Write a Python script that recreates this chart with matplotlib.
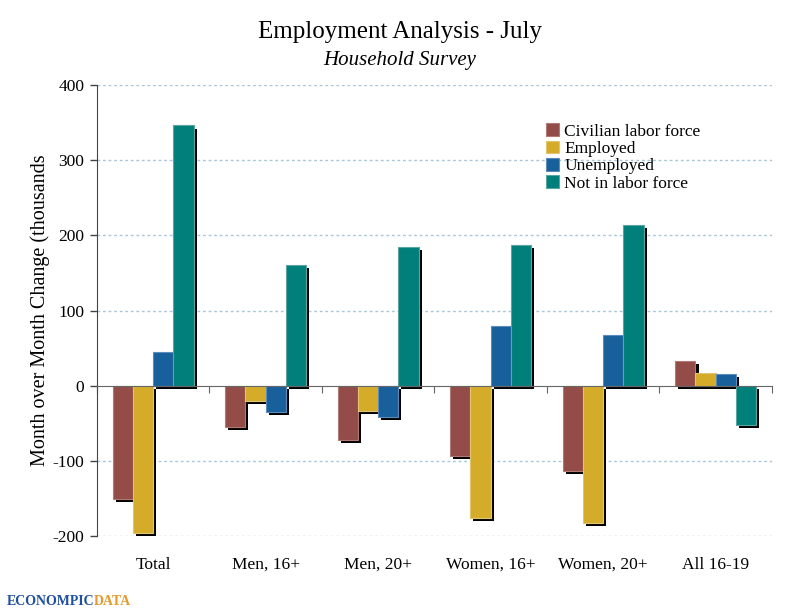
import matplotlib
matplotlib.use("Agg")
import matplotlib.pyplot as plt
import matplotlib.patheffects as pe
import numpy as np

# data (thousands, month over month)
groups = ["Total", "Men, 16+", "Men, 20+", "Women, 16+", "Women, 20+", "All 16-19"]
series = ["Civilian labor force", "Employed", "Unemployed", "Not in labor force"]
civilian = [-150, -55, -72, -93, -113, 33]
employed = [-195, -20, -33, -176, -182, 17]
unemployed = [45, -35, -41, 79, 68, 16]
not_in_lf = [346, 160, 185, 187, 214, -52]
colors = ["#934c47", "#d4ac2a", "#18609b", "#007f7b"]
edges = ["#b07a76", "#e0c670", "#5d8cbc", "#5aa5a2"]

plt.rcParams['font.family'] = ['Liberation Serif', 'DejaVu Serif']
plt.rcParams['axes.unicode_minus'] = False

fig = plt.figure(figsize=(8, 6.15), dpi=100)
ax = fig.add_axes([0.121, 0.128, 0.844, 0.734])

x = np.arange(len(groups))
w = 0.18
shadow = [pe.SimplePatchShadow(offset=(2.2, -2.2), shadow_rgbFace='black', alpha=1.0), pe.Normal()]
for i, (vals, name) in enumerate(zip([civilian, employed, unemployed, not_in_lf], series)):
    bars = ax.bar(x + (i - 1.5) * w, vals, w, color=colors[i], edgecolor=edges[i],
                  linewidth=0.8, label=name, zorder=3)
    for b in bars:
        b.set_path_effects(shadow)

ax.set_xlim(-0.5, len(groups) - 0.5)
ax.set_ylim(-200, 400)
ax.set_yticks(np.arange(-200, 401, 100))
ax.tick_params(axis='y', direction='out', length=5, width=1, color='#444444',
               labelsize=12.5, pad=4)

# dotted grid, but not at zero
for v in ax.get_yticks():
    if v != 0:
        ax.axhline(v, color='#a9c6da', linestyle=(0, (2, 2)), linewidth=1, zorder=1)

for s in ['top', 'right']:
    ax.spines[s].set_visible(False)
ax.spines['left'].set_color('#444444')
ax.spines['bottom'].set_position(('data', 0))
ax.spines['bottom'].set_color('#666666')
ax.spines['bottom'].set_zorder(4)
ax.set_xticks(np.arange(len(groups) + 1) - 0.5)
ax.set_xticklabels([])
ax.tick_params(axis='x', direction='out', length=5, color='#666666')

sec = ax.secondary_xaxis(0)
sec.set_xticks(x)
sec.set_xticklabels(groups, fontsize=12.5)
sec.tick_params(length=0, pad=15)
sec.spines['bottom'].set_visible(False)

ax.set_ylabel("Month over Month Change (thousands", fontsize=14.5, labelpad=2)

leg = ax.legend(loc='upper left', bbox_to_anchor=(0.655, 0.93), frameon=False,
                fontsize=12.5, handlelength=0.75, handleheight=0.75,
                handletextpad=0.3, labelspacing=0.05, borderaxespad=0)
for h in leg.legend_handles:
    h.set_path_effects([])

fig.text(0.5, 0.948, "Employment Analysis - July", ha='center', va='center', fontsize=18)
fig.text(0.5, 0.902, "Household Survey", ha='center', va='center', fontsize=15, style='italic')

# logo
t = fig.text(0.008, 0.022, "ECONOMPIC", fontsize=10, fontweight='bold', color='#1f4f9e', va='center')
fig.canvas.draw()
bb = t.get_window_extent()
fig.text(bb.x1 / fig.bbox.width, 0.022, "DATA", fontsize=10, fontweight='bold',
         color='#e39a2d', va='center')

fig.savefig("out.png", dpi=100)
